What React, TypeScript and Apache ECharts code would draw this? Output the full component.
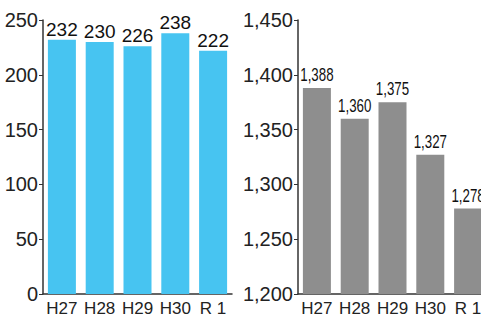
import React, { useEffect, useRef } from "react";
import * as echarts from "echarts";

const categories = ["H27", "H28", "H29", "H30", "R 1"];
const leftValues = [232, 230, 226, 238, 222];
const rightValues = [1388, 1360, 1375, 1327, 1278];
const leftAxis = { min: 0, max: 250, interval: 50 };
const rightAxis = { min: 1200, max: 1450, interval: 50 };

const fmt = (v: number) => v.toLocaleString("en-US");

export default function App() {
  const ref = useRef<HTMLDivElement>(null);
  useEffect(() => {
    document.body.style.margin = "0";
    document.body.style.overflow = "hidden";
    const chart = echarts.init(ref.current!, null, { renderer: "svg" });
    const font = "'Liberation Sans', Arial, sans-serif";
    const xAxisBase = {
      type: "category" as const,
      data: categories,
      axisLine: { lineStyle: { color: "#333", width: 1.5 } },
      axisTick: { inside: true, length: 5, lineStyle: { color: "#333" } },
      axisLabel: { interval: 0, color: "#222", fontSize: 17, fontFamily: font, margin: 6 },
    };
    const yAxisBase = {
      type: "value" as const,
      axisLine: { show: true, lineStyle: { color: "#333", width: 1.5 } },
      axisTick: { show: true, length: 4, lineStyle: { color: "#333" } },
      splitLine: { show: false },
      axisLabel: { color: "#222", fontSize: 20, fontFamily: font, margin: 5, formatter: (v: number) => fmt(v) },
    };
    chart.setOption({
      animation: false,
      grid: [
        { left: 43, top: 20, width: 189, height: 274 },
        { left: 298, top: 20, width: 189, height: 274 },
      ],
      xAxis: [
        { ...xAxisBase, gridIndex: 0 },
        { ...xAxisBase, gridIndex: 1 },
      ],
      yAxis: [
        { ...yAxisBase, gridIndex: 0, ...leftAxis },
        { ...yAxisBase, gridIndex: 1, ...rightAxis },
      ],
      series: [
        {
          type: "bar",
          xAxisIndex: 0,
          yAxisIndex: 0,
          data: leftValues,
          barWidth: 28,
          itemStyle: { color: "#47C4F1" },
          label: { show: true, position: "top", distance: 1, color: "#111", fontSize: 19, fontFamily: font },
        },
        {
          type: "bar",
          xAxisIndex: 1,
          yAxisIndex: 1,
          data: rightValues,
          barWidth: 28,
          itemStyle: { color: "#8E8E8E" },
        },
      ],
    });
    const labels = rightValues.map((v, i) => {
      const [px, py] = chart.convertToPixel({ gridIndex: 1 }, [categories[i], v]) as number[];
      return {
        type: "text",
        x: px,
        y: py - 4,
        scaleX: 0.74,
        style: {
          text: fmt(v),
          font: "18px 'Liberation Sans', Arial, sans-serif",
          fill: "#111",
          align: "center",
          verticalAlign: "bottom",
        },
      };
    });
    chart.setOption({ graphic: labels });
    return () => chart.dispose();
  }, []);
  return <div ref={ref} style={{ position: "absolute", left: 0, top: 0, width: 500, height: 323 }} />;
}
